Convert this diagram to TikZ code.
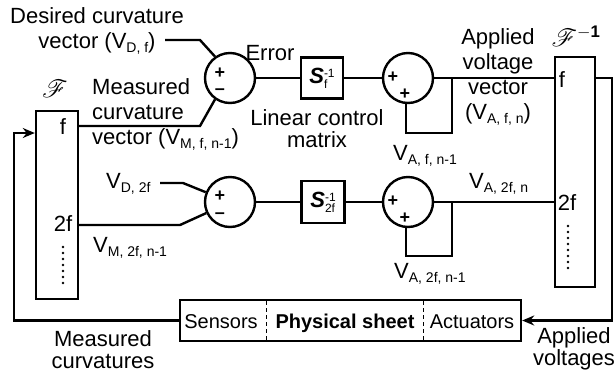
\documentclass[tikz,border=0pt]{standalone}
\usepackage{fontspec}
\setmainfont{Liberation Sans}
\usepackage{mathrsfs}
\usetikzlibrary{arrows.meta}

\newcommand{\lowsub}[1]{\raisebox{-4pt}{\fontsize{14}{14}\selectfont #1}}
\newcommand{\smallsub}[1]{\raisebox{-5pt}{\fontsize{12}{12}\selectfont #1}}
\newcommand{\smallsup}[1]{\raisebox{6pt}{\fontsize{12}{12}\selectfont #1}}

\begin{document}
\begin{tikzpicture}[x=1pt,y=-1pt,
  wire/.style={line width=2.4pt},
  blk/.style={draw, line width=2.4pt, inner sep=0pt},
  sumc/.style={draw, circle, line width=2.4pt, minimum size=50pt, inner sep=0pt},
  lbl/.style={inner sep=0pt, font=\fontsize{22}{25}\selectfont},
  boxtxt/.style={inner sep=0pt, font=\fontsize{20}{20}\selectfont, anchor=base},
  sgn/.style={inner sep=0pt, font=\fontsize{18}{18}\selectfont\bfseries},
  arr/.style={wire, -{Stealth[length=12pt,width=10pt]}},
  dotline/.style={line width=2.6pt, line cap=round, dash pattern=on 0pt off 6pt},
  divider/.style={line width=1pt, dash pattern=on 4pt off 3pt}]
\useasboundingbox (0,0) rectangle (614,373);

% blocks
\node[blk, minimum width=42pt, minimum height=188pt] (F) at (57,205) {};
\node[blk, minimum width=40pt, minimum height=230pt] (Fi) at (575,172) {};
\node[sumc] (C1) at (230,78) {};
\node[sumc] (C2) at (408,78) {};
\node[sumc] (C3) at (230,202) {};
\node[sumc] (C4) at (408,202) {};
\node[blk, minimum width=42pt, minimum height=41pt, font=\fontsize{22}{22}\selectfont] (S1) at (322,78)
  {{\bfseries\itshape S}\rlap{\smallsub{f}}\smallsup{-1}};
\node[blk, minimum width=43pt, minimum height=42pt, font=\fontsize{22}{22}\selectfont] (S2) at (323,202)
  {{\bfseries\itshape S}\rlap{\smallsub{2f}}\smallsup{-1}};
\node[blk, minimum width=341pt, minimum height=41pt] (P) at (350.5,320.5) {};

% coordinates
\coordinate (d1) at (165,40);
\coordinate (d2) at (200,40);
\coordinate (a1) at (200,126);
\coordinate (v1) at (160,183);
\coordinate (v2) at (183,183);
\coordinate (m1) at (180,225);
\coordinate (l1) at (452,133);
\coordinate (j1) at (452,78);
\coordinate (l2) at (452,256);
\coordinate (j2) at (452,202);
\coordinate (b1) at (14,320.5);
\coordinate (b2) at (14,133);
\coordinate (r1) at (612,78);
\coordinate (r2) at (612,320.5);

% wires
\draw[wire] (d1) -- (d2) -- (C1.125);
\draw[wire] (F.east |- a1) -- (a1) -- (C1.235);
\draw[wire] (C1) -- (S1) -- (C2) -- (Fi.west |- C2);
\draw[wire] (C2.265) |- (l1) -- (j1);
\draw[wire] (v1) -- (v2) -- (C3.158);
\draw[wire] (F.east |- m1) -- (m1) -- (C3.205);
\draw[wire] (C3) -- (S2) -- (C4) -- (Fi.west |- C4);
\draw[wire] (C4.265) |- (l2) -- (j2);
\draw[arr] (P.west) -- (b1) -- (b2) -- (F.west |- b2);
\draw[arr] (Fi.east |- r1) -- (r1) -- (r2) -- (P.east);

% dividers in physical sheet box
\draw[divider] (266,301) -- (266,340);
\draw[divider] (423,301) -- (423,340);

% signs
\node[sgn] at (220,73) {+};
\node[sgn] at (220,92) {--};
\node[sgn] at (220,196) {+};
\node[sgn] at (220,216) {--};
\node[sgn] at (393,77) {+};
\node[sgn] at (405,94) {+};
\node[sgn] at (393,201) {+};
\node[sgn] at (405,218) {+};

% transform boxes labels
\node[inner sep=0pt, font=\fontsize{26}{26}\selectfont] (tF) at (55,89) {$\mathscr{F}$};
\node[inner sep=0pt, font=\fontsize{24}{24}\selectfont] (tFi) at (576,36) {$\mathscr{F}^{\mathbf{-1}}$};
\node[lbl] at (63,127) {f};
\node[lbl] at (63,224) {2f};
\node[lbl] at (562,80) {f};
\node[lbl] at (567,203) {2f};
\draw[dotline] (63,247) -- (63,285);
\draw[dotline] (568,226) -- (568,268);

% labels
\node[lbl, align=center] (tdes) at (97,31) {Desired curvature\\vector (V\lowsub{D, f})};
\node[lbl, align=left, anchor=west] (tmeas) at (92,114) {Measured\\curvature\\vector (V\lowsub{M, f, n-1})};
\node[lbl] (terr) at (270,53) {Error};
\node[lbl, align=center, font=\fontsize{22}{22}\selectfont] (tlin) at (317,129) {Linear control\\matrix};
\node[lbl, align=center] (tapp) at (498,77) {Applied\\voltage\\vector\\(V\lowsub{A, f, n})};
\node[lbl, anchor=base west] at (393,160) {V\lowsub{A, f, n-1}};
\node[lbl, anchor=base west] at (106,188) {V\lowsub{D, 2f}};
\node[lbl, anchor=base west] at (93,252) {V\lowsub{M, 2f, n-1}};
\node[lbl, anchor=base west] at (469,188) {V\lowsub{A, 2f, n}};
\node[lbl, anchor=base west] at (394,278) {V\lowsub{A, 2f, n-1}};
\node[lbl, align=center, font=\fontsize{22}{22}\selectfont] at (103,350) {Measured\\curvatures};
\node[lbl, align=center, font=\fontsize{22}{22}\selectfont] at (574,349) {Applied\\voltages};

% physical sheet texts
\node[boxtxt] at (221,328) {Sensors};
\node[boxtxt, font=\fontsize{20}{20}\selectfont\bfseries] at (345,328) {Physical sheet};
\node[boxtxt] at (472,328) {Actuators};
\end{tikzpicture}
\end{document}
